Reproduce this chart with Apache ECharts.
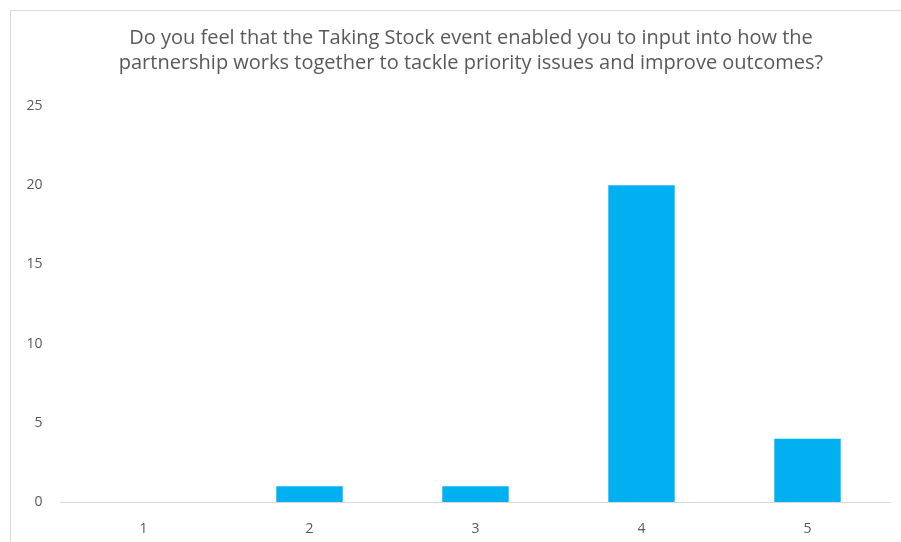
<!DOCTYPE html>
<html><head><meta charset="utf-8">
<script src="https://cdn.jsdelivr.net/npm/echarts@6/dist/echarts.min.js"></script>
<style>html,body{margin:0;padding:0;background:#fff}#c{width:901px;height:542px}</style>
</head><body><div id="c"></div>
<script>
const categories = ['1','2','3','4','5'];
const values = [0, 1, 1, 20, 4];
const titleText = 'Do you feel that the Taking Stock event enabled you to input into how the\npartnership works together to tackle priority issues and improve outcomes?';

const chart = echarts.init(document.getElementById('c'));
chart.setOption({
  animation: false,
  backgroundColor: '#fff',
  graphic: [{type:'rect', shape:{x:10.5,y:10.5,width:1000,height:1000}, style:{fill:'none', stroke:'#D9D9D9', lineWidth:1}, silent:true}],
  title: {text: titleText, left: 466, textAlign: 'center', top: 21,
    textStyle: {fontFamily: 'Open Sans', fontSize: 20, fontWeight: 'normal', color: '#595959', lineHeight: 25}},
  grid: {left: 60.5, right: 10.5, top: 106, bottom: 40, containLabel: false},
  xAxis: {type: 'category', data: categories,
    axisLine: {lineStyle: {color: '#D9D9D9', width: 1}}, axisTick: {show: false},
    axisLabel: {color: '#595959', fontFamily: 'Open Sans', fontSize: 14, margin: 20}},
  yAxis: {type: 'value', min: 0, max: 25, interval: 5,
    axisLine: {show: false}, axisTick: {show: false}, splitLine: {show: false},
    axisLabel: {color: '#595959', fontFamily: 'Open Sans', fontSize: 14, margin: 18}},
  series: [{type: 'bar', data: values, barWidth: '40%', itemStyle: {color: '#00B0F0'}}]
});
</script></body></html>
